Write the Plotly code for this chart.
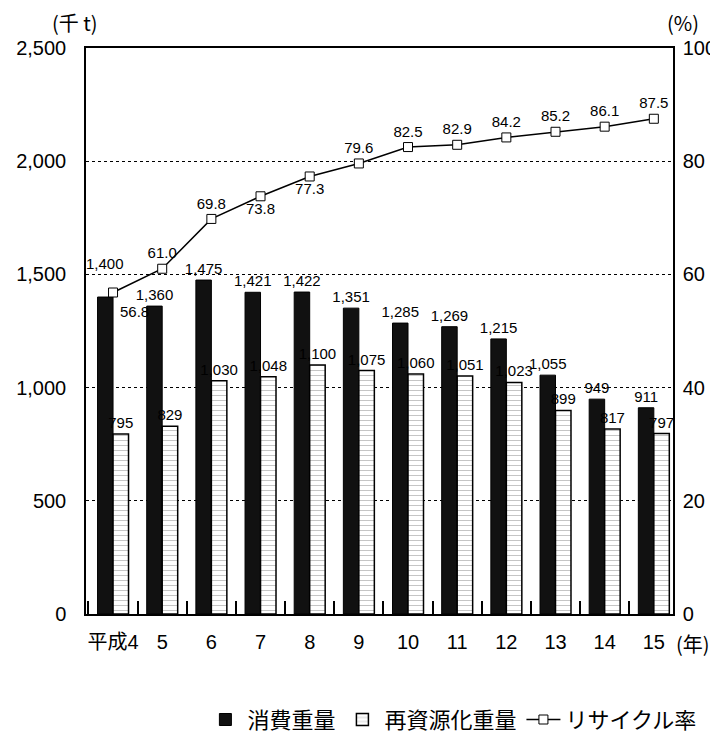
import plotly.graph_objects as go

categories = ["平成4", "5", "6", "7", "8", "9", "10", "11", "12", "13", "14", "15"]
consumption = [1400, 1360, 1475, 1421, 1422, 1351, 1285, 1269, 1215, 1055, 949, 911]
recycled = [795, 829, 1030, 1048, 1100, 1075, 1060, 1051, 1023, 899, 817, 797]
rate = [56.8, 61.0, 69.8, 73.8, 77.3, 79.6, 82.5, 82.9, 84.2, 85.2, 86.1, 87.5]
rate_text_pos = ["bottom right", "top center", "top center", "bottom center", "bottom center",
                 "top center", "top center", "top center", "top center", "top center",
                 "top center", "top center"]

FONT = "Liberation Sans, Noto Sans CJK JP, sans-serif"
LBL = "Liberation Sans, sans-serif"
JP = "Noto Sans CJK JP, sans-serif"

def fmt(v):
    return f"{v:,}"

# first labels are placed by annotations (lifted / lowered as in the reference)
cons_text = [fmt(v) for v in consumption]
cons_text[0] = ""
rate_text = [f"{v:.1f}" for v in rate]
rate_text[0] = ""

fig = go.Figure()
fig.add_trace(go.Bar(
    x=categories, y=consumption, name="消費重量",
    marker=dict(color="#111111", line=dict(color="black", width=1)),
    text=cons_text, textposition="outside",
    textfont=dict(family=LBL, size=15, color="black"),
    cliponaxis=False, constraintext="none",
))
fig.add_trace(go.Bar(
    x=categories, y=recycled, name="再資源化重量",
    marker=dict(color="white", line=dict(color="black", width=1.5),
                pattern=dict(shape="-", fgcolor="#666666", bgcolor="white", size=5, solidity=0.15)),
    text=[fmt(v) for v in recycled], textposition="outside",
    textfont=dict(family=LBL, size=15, color="black"),
    cliponaxis=False, constraintext="none",
))
fig.add_trace(go.Scatter(
    x=categories, y=rate, name="リサイクル率", yaxis="y2",
    mode="lines+markers+text",
    line=dict(color="black", width=1.5),
    marker=dict(symbol="square", size=9, color="white", line=dict(color="black", width=1)),
    text=rate_text, textposition=rate_text_pos,
    textfont=dict(family=LBL, size=15, color="black"),
    cliponaxis=False,
))

# page body has an 8px default margin, so the figure is 8px smaller than the window
fig.update_layout(
    width=710, height=736,
    margin=dict(l=78, r=45, t=40, b=130),
    paper_bgcolor="white", plot_bgcolor="white",
    font=dict(family=FONT, size=20, color="black"),
    barmode="group", bargap=0.37, bargroupgap=0,
    showlegend=True,
    legend=dict(orientation="h", xref="paper", yref="container",
                x=0.2, xanchor="left", y=0.033, yanchor="middle",
                font=dict(family=JP, size=22), itemwidth=34, traceorder="normal",
                bgcolor="rgba(0,0,0,0)"),
    xaxis=dict(
        type="category", range=[-0.55, 11.39], automargin=False, tickangle=0,
        showline=True, linecolor="black", linewidth=1.5, mirror=True,
        ticks="inside", tickson="boundaries", ticklen=13, tickcolor="black", tickwidth=1.5,
        showgrid=False, ticklabelstandoff=9,
        tickfont=dict(family=FONT, size=20),
    ),
    yaxis=dict(
        range=[0, 2500], dtick=500, tickformat=",d", automargin=False,
        showline=True, linecolor="black", linewidth=1.5,
        showgrid=True, gridcolor="black", griddash="dot", gridwidth=1.2,
        zeroline=False, ticks="", ticklabelstandoff=14,
        tickfont=dict(family=FONT, size=20),
    ),
    yaxis2=dict(
        range=[0, 100], dtick=20, overlaying="y", side="right", automargin=False,
        showline=True, linecolor="black", linewidth=1.5,
        showgrid=False, zeroline=False, ticks="", ticklabelstandoff=4,
        tickfont=dict(family=FONT, size=20),
    ),
    annotations=[
        dict(text=fmt(consumption[0]), x=categories[0], y=consumption[0], xref="x", yref="y",
             xshift=-8, yshift=34, showarrow=False, xanchor="center", yanchor="middle",
             font=dict(family=LBL, size=15)),
        dict(text=f"{rate[0]:.1f}", x=categories[0], y=rate[0], xref="x", yref="y2",
             xshift=5, yshift=-19, showarrow=False, xanchor="left", yanchor="middle",
             font=dict(family=LBL, size=15)),
        dict(text="(千 t)", xref="paper", yref="paper", x=-0.019, y=1.0, yshift=26,
             xanchor="center", yanchor="middle", showarrow=False,
             font=dict(family=JP, size=20)),
        dict(text="(%)", xref="paper", yref="paper", x=1.017, y=1.0, yshift=26,
             xanchor="center", yanchor="middle", showarrow=False,
             font=dict(family=JP, size=20)),
        dict(text="(年)", xref="paper", yref="paper", x=1.034, y=0, yshift=-29,
             xanchor="center", yanchor="middle", showarrow=False,
             font=dict(family=JP, size=20)),
    ],
)

fig.write_html("out.html")
